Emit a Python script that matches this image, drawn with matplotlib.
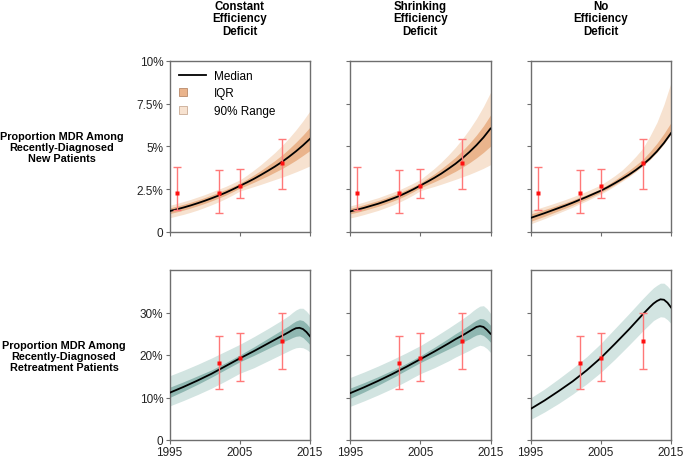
import matplotlib
matplotlib.use("Agg")
import matplotlib.pyplot as plt
from matplotlib.patches import Patch, Rectangle
from matplotlib.lines import Line2D
from matplotlib.legend_handler import HandlerPatch

plt.rcParams['font.family'] = ['Liberation Sans', 'DejaVu Sans']

# ---------------- data ----------------
col_titles = ["Constant\nEfficiency\nDeficit", "Shrinking\nEfficiency\nDeficit", "No\nEfficiency\nDeficit"]
row_labels = ["Proportion MDR Among\nRecently-Diagnosed\nNew Patients",
              "Proportion MDR Among\nRecently-Diagnosed\nRetreatment Patients"]

x_ticks = [1995, 2005, 2015]
x_tick_labels = ["1995", "2005", "2015"]
top_y_ticks = [0, 2.5, 5, 7.5, 10]
top_y_tick_labels = ["0", "2.5%", "5%", "7.5%", "10%"]
bot_y_ticks = [0, 10, 20, 30]
bot_y_tick_labels = ["0", "10%", "20%", "30%"]

# observed data (percent)
new_obs_years = [1996, 2002, 2005, 2011]
new_obs_val = [2.3, 2.3, 2.7, 4.0]
new_obs_lo = [1.3, 1.1, 2.0, 2.5]
new_obs_hi = [3.8, 3.6, 3.7, 5.4]

ret_obs_years = [2002, 2005, 2011]
ret_obs_val = [18.2, 19.3, 23.3]
ret_obs_lo = [11.9, 14.0, 16.8]
ret_obs_hi = [24.5, 25.1, 30.0]

# model output, new patients (percent)
years_top = list(range(1995, 2016))

new_med_const = [1.22, 1.32, 1.43, 1.55, 1.68, 1.82, 1.97, 2.13, 2.30, 2.49, 2.69, 2.89, 3.10, 3.33, 3.57, 3.82, 4.09, 4.39, 4.71, 5.06, 5.44]
new_iqr_lo_const = [1.07, 1.17, 1.28, 1.40, 1.53, 1.67, 1.82, 1.98, 2.15, 2.35, 2.56, 2.72, 2.90, 3.09, 3.28, 3.49, 3.70, 3.94, 4.19, 4.47, 4.76]
new_iqr_hi_const = [1.40, 1.51, 1.62, 1.74, 1.87, 2.01, 2.16, 2.32, 2.48, 2.66, 2.85, 3.08, 3.33, 3.59, 3.88, 4.17, 4.49, 4.85, 5.24, 5.66, 6.12]
new_p90_lo_const = [0.83, 0.93, 1.03, 1.15, 1.28, 1.43, 1.59, 1.76, 1.95, 2.16, 2.39, 2.52, 2.65, 2.78, 2.92, 3.06, 3.20, 3.35, 3.51, 3.68, 3.86]
new_p90_hi_const = [1.55, 1.66, 1.78, 1.90, 2.04, 2.18, 2.34, 2.50, 2.66, 2.85, 3.04, 3.31, 3.61, 3.93, 4.28, 4.64, 5.04, 5.48, 5.96, 6.49, 7.07]

new_med_shrink = [1.20, 1.30, 1.41, 1.53, 1.65, 1.79, 1.94, 2.10, 2.29, 2.49, 2.71, 2.93, 3.16, 3.41, 3.69, 3.98, 4.31, 4.67, 5.07, 5.52, 6.04]
new_iqr_lo_shrink = [1.06, 1.15, 1.26, 1.38, 1.50, 1.64, 1.79, 1.95, 2.14, 2.35, 2.58, 2.75, 2.93, 3.12, 3.33, 3.54, 3.78, 4.04, 4.33, 4.65, 5.01]
new_iqr_hi_shrink = [1.38, 1.48, 1.60, 1.72, 1.84, 1.98, 2.13, 2.28, 2.47, 2.66, 2.87, 3.13, 3.39, 3.69, 4.02, 4.36, 4.75, 5.18, 5.66, 6.20, 6.83]
new_p90_lo_shrink = [0.82, 0.91, 1.02, 1.14, 1.26, 1.41, 1.56, 1.74, 1.94, 2.16, 2.41, 2.54, 2.66, 2.79, 2.93, 3.07, 3.22, 3.37, 3.54, 3.72, 3.93]
new_p90_hi_shrink = [1.52, 1.63, 1.75, 1.88, 2.00, 2.15, 2.30, 2.46, 2.65, 2.85, 3.06, 3.38, 3.71, 4.08, 4.49, 4.94, 5.44, 6.00, 6.62, 7.33, 8.15]

new_med_none = [0.82, 0.96, 1.10, 1.25, 1.40, 1.55, 1.71, 1.88, 2.05, 2.23, 2.41, 2.62, 2.85, 3.09, 3.34, 3.62, 3.93, 4.29, 4.71, 5.20, 5.77]
new_iqr_lo_none = [0.62, 0.77, 0.92, 1.08, 1.24, 1.40, 1.57, 1.75, 1.93, 2.12, 2.31, 2.53, 2.77, 3.02, 3.28, 3.57, 3.89, 4.25, 4.67, 5.17, 5.74]
new_iqr_hi_none = [1.05, 1.18, 1.31, 1.44, 1.58, 1.72, 1.87, 2.03, 2.18, 2.35, 2.52, 2.77, 3.03, 3.31, 3.59, 3.91, 4.25, 4.69, 5.18, 5.75, 6.39]
new_p90_lo_none = [0.47, 0.63, 0.78, 0.95, 1.11, 1.28, 1.45, 1.64, 1.82, 2.02, 2.21, 2.44, 2.69, 2.95, 3.22, 3.52, 3.85, 4.22, 4.65, 5.14, 5.72]
new_p90_hi_none = [1.24, 1.36, 1.49, 1.62, 1.76, 1.90, 2.05, 2.21, 2.38, 2.56, 2.75, 3.01, 3.29, 3.60, 3.99, 4.42, 4.90, 5.60, 6.40, 7.45, 8.72]

# model output, retreatment patients (percent)
years_bot = [1995, 1997, 1999, 2001, 2003, 2005, 2007, 2009, 2010, 2011, 2012, 2012.5, 2013, 2013.5, 2014, 2014.5, 2015]

ret_med_const = [11.1, 12.5, 14.0, 15.6, 17.4, 19.2, 20.9, 22.7, 23.6, 24.5, 25.4, 25.9, 26.3, 26.4, 26.1, 25.4, 24.4]
ret_iqr_lo_const = [10.0, 11.5, 13.1, 14.8, 16.6, 18.4, 19.9, 21.5, 22.3, 23.0, 23.7, 24.1, 24.4, 24.5, 24.1, 23.3, 22.4]
ret_iqr_hi_const = [12.4, 13.7, 15.1, 16.5, 18.2, 20.0, 21.9, 23.9, 24.9, 25.9, 26.9, 27.5, 28.0, 28.3, 28.1, 27.4, 26.4]
ret_p90_lo_const = [8.0, 9.3, 10.7, 12.2, 13.9, 15.7, 17.0, 18.6, 19.4, 20.2, 21.0, 21.4, 21.7, 21.8, 21.7, 21.3, 20.7]
ret_p90_hi_const = [15.1, 16.4, 17.8, 19.3, 20.9, 22.5, 24.3, 26.2, 27.2, 28.2, 29.3, 30.0, 30.6, 31.0, 31.0, 30.3, 29.3]

ret_med_shrink = [11.0, 12.4, 13.9, 15.5, 17.2, 19.0, 20.8, 22.7, 23.7, 24.6, 25.6, 26.1, 26.6, 26.8, 26.6, 25.9, 25.0]
ret_iqr_lo_shrink = [9.8, 11.3, 12.9, 14.6, 16.4, 18.2, 19.8, 21.4, 22.2, 23.0, 23.8, 24.3, 24.7, 24.9, 24.6, 23.9, 23.0]
ret_iqr_hi_shrink = [12.2, 13.5, 14.9, 16.4, 18.0, 19.8, 21.8, 23.9, 25.0, 26.0, 27.1, 27.7, 28.2, 28.6, 28.5, 27.9, 27.0]
ret_p90_lo_shrink = [7.9, 9.2, 10.6, 12.1, 13.8, 15.6, 17.0, 18.6, 19.5, 20.3, 21.1, 21.6, 22.0, 22.3, 22.1, 21.5, 20.6]
ret_p90_hi_shrink = [14.7, 16.0, 17.4, 18.9, 20.5, 22.2, 24.2, 26.3, 27.4, 28.5, 29.7, 30.4, 31.0, 31.5, 31.6, 30.9, 29.8]

ret_med_none = [7.3, 9.3, 11.5, 13.8, 16.4, 19.3, 22.6, 26.0, 27.8, 29.6, 31.3, 32.1, 32.7, 33.1, 33.0, 32.3, 31.2]
ret_p90_lo_none = [4.8, 6.6, 8.6, 10.8, 13.2, 15.9, 19.0, 22.3, 24.0, 25.7, 27.3, 28.1, 28.6, 29.0, 28.9, 28.3, 27.4]
ret_p90_hi_none = [9.9, 12.0, 14.4, 16.9, 19.6, 22.7, 26.2, 29.7, 31.5, 33.3, 35.0, 35.8, 36.4, 36.9, 36.9, 36.2, 35.2]

# ---------------- styling ----------------
ORANGE_IQR = '#eab48c'
ORANGE_90 = '#f7e2d0'
TEAL_IQR = '#8fb7b1'
TEAL_90 = '#d2e4e1'
SPINE = '#6e6e6e'

W, H = 685, 460
fig = plt.figure(figsize=(W / 100, H / 100), dpi=100)

lefts = [169.5, 350.0, 530.5]
pw = 140.5
top_row = (61.7, 233.0)
bot_row = (271.0, 441.0)


def make_ax(left, row):
    t, b = row
    return fig.add_axes([left / W, (H - b) / H, pw / W, (b - t) / H])


def style(ax, yticks, ylabels, ylim, show_x, show_y):
    ax.set_xlim(1995, 2015)
    ax.set_ylim(*ylim)
    ax.set_xticks(x_ticks)
    ax.set_yticks(yticks)
    ax.set_xticklabels(x_tick_labels if show_x else [])
    ax.set_yticklabels(ylabels if show_y else [])
    for s in ax.spines.values():
        s.set_color(SPINE)
        s.set_linewidth(1.0)
    ax.tick_params(direction='out', length=3.2, width=0.8, color=SPINE,
                   labelsize=8.5, labelcolor='#222222', pad=1.2)


def draw_obs(ax, yrs, val, lo, hi):
    yerr = [[v - l for v, l in zip(val, lo)], [h - v for v, h in zip(val, hi)]]
    ax.errorbar(yrs, val, yerr=yerr, fmt='none', ecolor='#ff7878', elinewidth=1.0,
                capsize=2.8, capthick=1.0, zorder=5)
    ax.plot(yrs, val, 's', color='#ff1010', ms=3.2, mec='none', zorder=6)


top_sets = [
    (new_med_const, new_iqr_lo_const, new_iqr_hi_const, new_p90_lo_const, new_p90_hi_const),
    (new_med_shrink, new_iqr_lo_shrink, new_iqr_hi_shrink, new_p90_lo_shrink, new_p90_hi_shrink),
    (new_med_none, new_iqr_lo_none, new_iqr_hi_none, new_p90_lo_none, new_p90_hi_none),
]
bot_sets = [
    (ret_med_const, ret_iqr_lo_const, ret_iqr_hi_const, ret_p90_lo_const, ret_p90_hi_const),
    (ret_med_shrink, ret_iqr_lo_shrink, ret_iqr_hi_shrink, ret_p90_lo_shrink, ret_p90_hi_shrink),
    (ret_med_none, None, None, ret_p90_lo_none, ret_p90_hi_none),
]

for i in range(3):
    # top row
    ax = make_ax(lefts[i], top_row)
    med, ilo, ihi, plo, phi = top_sets[i]
    ax.fill_between(years_top, plo, phi, color=ORANGE_90, lw=0, zorder=1)
    ax.fill_between(years_top, ilo, ihi, color=ORANGE_IQR, lw=0, zorder=2)
    ax.plot(years_top, med, color='black', lw=1.3, zorder=4)
    draw_obs(ax, new_obs_years, new_obs_val, new_obs_lo, new_obs_hi)
    style(ax, top_y_ticks, top_y_tick_labels, (0, 10), False, i == 0)
    if i == 0:
        def sq(legend, orig_handle, xdescent, ydescent, width, height, fontsize):
            s = height * 0.95
            return Rectangle((-xdescent, -ydescent + (height - s) / 2), s, s)
        handles = [Line2D([], [], color='black', lw=1.3),
                   Patch(facecolor=ORANGE_IQR, edgecolor='#b98a6a', lw=0.6),
                   Patch(facecolor=ORANGE_90, edgecolor='#c9ab95', lw=0.6)]
        ax.legend(handles, ["Median", "IQR", "90% Range"], loc='upper left',
                  frameon=False, fontsize=8.5, handlelength=2.3, handleheight=0.75,
                  handletextpad=0.7, labelspacing=0.45, borderaxespad=0.4,
                  handler_map={Patch: HandlerPatch(patch_func=sq)})

    # bottom row
    ax = make_ax(lefts[i], bot_row)
    med, ilo, ihi, plo, phi = bot_sets[i]
    ax.fill_between(years_bot, plo, phi, color=TEAL_90, lw=0, zorder=1)
    if ilo is not None:
        ax.fill_between(years_bot, ilo, ihi, color=TEAL_IQR, lw=0, zorder=2)
    ax.plot(years_bot, med, color='black', lw=1.3, zorder=4)
    draw_obs(ax, ret_obs_years, ret_obs_val, ret_obs_lo, ret_obs_hi)
    style(ax, bot_y_ticks, bot_y_tick_labels, (0, 40), True, i == 0)

    # column titles
    fig.text((lefts[i] + pw / 2) / W, 1 - 1.0 / H, col_titles[i], ha='center', va='top',
             fontsize=8.3, fontweight='bold', linespacing=1.05)

fig.text(62 / W, 1 - 148 / H, row_labels[0], ha='center', va='center',
         fontsize=7.8, fontweight='bold', linespacing=1.1)
fig.text(64 / W, 1 - 357 / H, row_labels[1], ha='center', va='center',
         fontsize=7.8, fontweight='bold', linespacing=1.1)

fig.savefig('out.png', dpi=100)
